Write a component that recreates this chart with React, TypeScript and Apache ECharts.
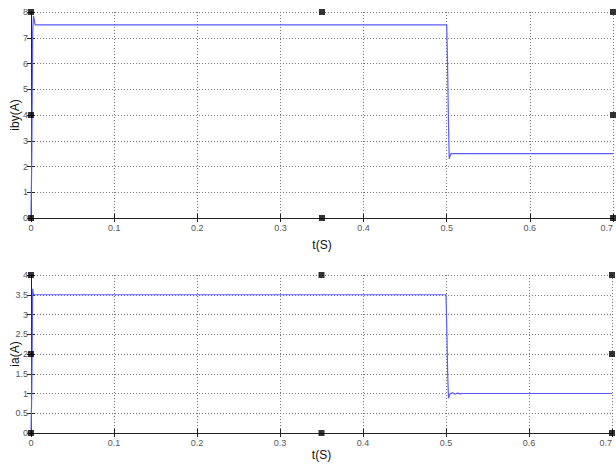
import React, { useEffect, useRef } from "react";
import * as echarts from "echarts";

// Top panel: iby(A)
const topTime = [0, 0.001, 0.002, 0.003, 0.005, 0.008, 0.5, 0.501, 0.502, 0.503, 0.505, 0.508, 0.7];
const topValue = [0, 2.5, 7.2, 7.85, 7.5, 7.5, 7.5, 6.0, 3.9, 2.3, 2.5, 2.5, 2.5];

// Bottom panel: ia(A)
const botTime = [0, 0.001, 0.002, 0.003, 0.004, 0.008, 0.5, 0.501, 0.502, 0.503, 0.505, 0.508, 0.511, 0.514, 0.517, 0.52, 0.53, 0.7];
const botValue = [0, 1.1, 3.65, 3.5, 3.5, 3.5, 3.5, 2.6, 1.5, 0.88, 1.0, 1.02, 0.98, 1.01, 0.99, 1.0, 1.0, 1.0];

const topYTicks = { min: 0, max: 8, interval: 1 };
const botYTicks = { min: 0, max: 4, interval: 0.5 };
const xTicks = { min: 0, max: 0.7, interval: 0.1 };
const handleX = [0, 0.35, 0.7];

const lineColor = "#5b5bff";
const tickFont = { fontSize: 9, color: "#555", fontFamily: "Liberation Sans Narrow, Arial Narrow, sans-serif" };
const splitLine = { show: true, lineStyle: { color: "#777", type: [1, 2] as any, width: 1 } };

function handles(max: number) {
  const mid = max / 2;
  const pts: number[][] = [];
  handleX.forEach((x) => {
    pts.push([x, 0]);
    pts.push([x, max]);
  });
  pts.push([0, mid]);
  pts.push([0.7, mid]);
  return pts;
}

export default function App() {
  const ref = useRef<HTMLDivElement>(null);
  useEffect(() => {
    if (!ref.current) return;
    const chart = echarts.init(ref.current, undefined, { renderer: "svg" });
    const xAxisBase = (gridIndex: number, nameGap: number) => ({
      type: "value",
      gridIndex,
      min: xTicks.min,
      max: xTicks.max,
      interval: xTicks.interval,
      name: "t(S)",
      nameLocation: "middle",
      nameGap,
      nameMoveOverlap: false,
      nameTextStyle: { fontSize: 12, color: "#111", fontFamily: "Liberation Sans, Arial, sans-serif" },
      axisLine: { show: true, lineStyle: { color: "#222", width: 1 } },
      axisTick: { show: true, inside: true, length: 4, lineStyle: { color: "#222" } },
      axisLabel: { ...tickFont, margin: 5, showMaxLabel: true, alignMaxLabel: "right" },
      splitLine,
    });
    const xAxisTop = (gridIndex: number) => ({
      type: "value",
      gridIndex,
      position: "top",
      min: xTicks.min,
      max: xTicks.max,
      interval: xTicks.interval,
      axisLine: { show: true, lineStyle: { color: "#222", width: 1 } },
      axisTick: { show: true, inside: true, length: 4, lineStyle: { color: "#222" } },
      axisLabel: { show: false },
      splitLine: { show: false },
    });
    const yAxisBase = (gridIndex: number, name: string, t: any) => ({
      type: "value",
      gridIndex,
      min: t.min,
      max: t.max,
      interval: t.interval,
      name,
      nameLocation: "middle",
      nameGap: 10,
      nameMoveOverlap: false,
      nameTextStyle: { fontSize: 12, color: "#111", fontFamily: "Liberation Sans, Arial, sans-serif" },
      axisLine: { show: true, lineStyle: { color: "#222", width: 1 } },
      axisTick: { show: true, inside: true, length: 4, lineStyle: { color: "#222" } },
      axisLabel: { ...tickFont, margin: 3 },
      splitLine,
    });
    const yAxisRight = (gridIndex: number, t: any) => ({
      type: "value",
      gridIndex,
      position: "right",
      min: t.min,
      max: t.max,
      interval: t.interval,
      axisLine: { show: true, lineStyle: { color: "#222", width: 1 } },
      axisTick: { show: true, inside: true, length: 4, lineStyle: { color: "#222" } },
      axisLabel: { show: false },
      splitLine: { show: false },
    });
    chart.setOption({
      animation: false,
      backgroundColor: "#fff",
      grid: [
        { left: 31, top: 12, width: 582, height: 206, containLabel: false, outerBoundsMode: "none" },
        { left: 31, top: 275, width: 581, height: 158, containLabel: false, outerBoundsMode: "none" },
      ],
      xAxis: [xAxisBase(0, 21), xAxisTop(0), xAxisBase(1, 16), xAxisTop(1)],
      yAxis: [
        yAxisBase(0, "iby(A)", topYTicks),
        yAxisRight(0, topYTicks),
        yAxisBase(1, "ia(A)", botYTicks),
        yAxisRight(1, botYTicks),
      ],
      series: [
        {
          type: "line",
          xAxisIndex: 0,
          yAxisIndex: 0,
          data: topTime.map((t, i) => [t, topValue[i]]),
          showSymbol: false,
          lineStyle: { color: lineColor, width: 1.2 },
          itemStyle: { color: lineColor },
        },
        {
          type: "line",
          xAxisIndex: 2,
          yAxisIndex: 2,
          data: botTime.map((t, i) => [t, botValue[i]]),
          showSymbol: false,
          lineStyle: { color: lineColor, width: 1.2 },
          itemStyle: { color: lineColor },
        },
        {
          type: "scatter",
          xAxisIndex: 0,
          yAxisIndex: 0,
          data: handles(topYTicks.max),
          symbol: "rect",
          symbolSize: 6,
          clip: false,
          itemStyle: { color: "#000" },
          z: 5,
        },
        {
          type: "scatter",
          xAxisIndex: 2,
          yAxisIndex: 2,
          data: handles(botYTicks.max),
          symbol: "rect",
          symbolSize: 6,
          clip: false,
          itemStyle: { color: "#000" },
          z: 5,
        },
      ],
    });
    return () => chart.dispose();
  }, []);
  return <div ref={ref} style={{ width: 616, height: 464, position: "absolute", left: 0, top: 0 }} />;
}
